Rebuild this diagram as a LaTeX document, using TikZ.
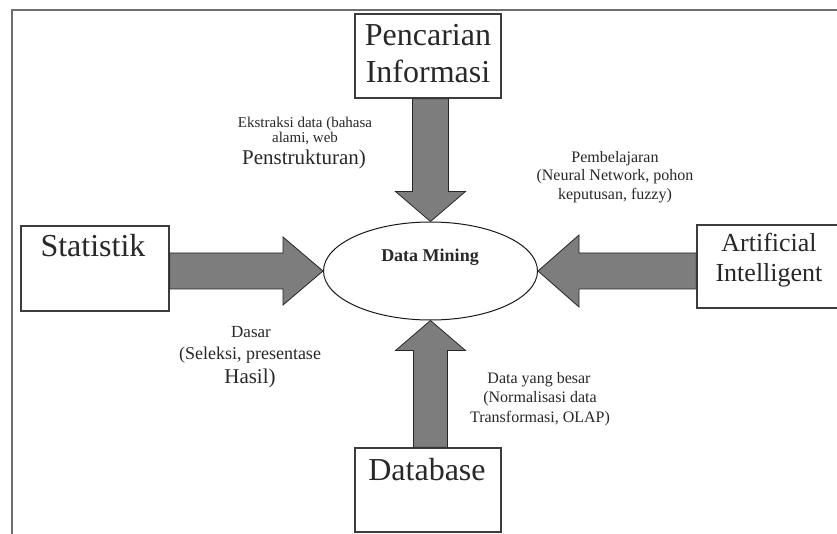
\documentclass[tikz,border=0pt]{standalone}
\usepackage{fontspec}
\setmainfont{Liberation Serif}
\usetikzlibrary{shapes.geometric,calc}
\definecolor{arrowgray}{RGB}{125,125,125}
\definecolor{framegray}{RGB}{110,110,110}
\definecolor{boxline}{RGB}{60,60,60}
\definecolor{txt}{RGB}{40,40,40}
\begin{document}
\begin{tikzpicture}[x=1pt,y=-1pt,
  box/.style={draw=boxline,line width=1.5pt,fill=white,inner sep=0pt,minimum width=146pt,minimum height=84pt},
  lbl/.style={inner sep=0pt,anchor=base,text=txt},
  big/.style={lbl,font=\fontsize{32}{37}\selectfont},
  mid/.style={lbl,font=\fontsize{21}{24}\selectfont},
  small/.style={lbl,font=\fontsize{16}{18}\selectfont},
  fat/.style={fill=arrowgray,draw=black!85,line width=0.8pt,line join=miter}]
\useasboundingbox (0,0) rectangle (837,534);
\clip (0,0) rectangle (837,534);
\fill[white] (0,0) rectangle (837,534);
\draw[framegray,line width=2pt] (12,10) rectangle (900,600);

% central ellipse
\node[ellipse,draw=black!90,line width=1pt,fill=white,minimum width=214pt,minimum height=98pt,inner sep=0pt] (dm) at (430.5,271) {};
\node[lbl,font=\bfseries\fontsize{18}{20}\selectfont] (dmT) at (430,262) {Data Mining};

% boxes
\node[box] (pen) at (428,56) {};
\node[box,minimum width=148pt,minimum height=85pt] (stat) at (95,268.5) {};
\node[box,minimum width=144pt,minimum height=83pt] (ai) at (769,266.5) {};
\node[box] (db) at (428,490) {};

% fat arrows
\filldraw[fat] ($(pen.south -| dm.north)+(-18,0)$) -- ($(dm.north)+(-18,-30)$) -- ($(dm.north)+(-35,-30)$) -- (dm.north) -- ($(dm.north)+(35,-30)$) -- ($(dm.north)+(18,-30)$) -- ($(pen.south -| dm.north)+(18,0)$) -- cycle;
\filldraw[fat] ($(db.north -| dm.south)+(-17,0)$) -- ($(dm.south)+(-17,30)$) -- ($(dm.south)+(-35,30)$) -- (dm.south) -- ($(dm.south)+(35,30)$) -- ($(dm.south)+(17,30)$) -- ($(db.north -| dm.south)+(17,0)$) -- cycle;
\filldraw[fat] ($(stat.east |- dm.west)+(0,-18)$) -- ($(dm.west)+(-40,-18)$) -- ($(dm.west)+(-40,-34)$) -- (dm.west) -- ($(dm.west)+(-40,34)$) -- ($(dm.west)+(-40,18)$) -- ($(stat.east |- dm.west)+(0,18)$) -- cycle;
\filldraw[fat] ($(ai.west |- dm.east)+(0,-18)$) -- ($(dm.east)+(41,-18)$) -- ($(dm.east)+(41,-36)$) -- (dm.east) -- ($(dm.east)+(41,36)$) -- ($(dm.east)+(41,18)$) -- ($(ai.west |- dm.east)+(0,18)$) -- cycle;

% box texts
\node[big] (penA) at (428,46) {Pencarian};
\node[big] (penB) at (428,83) {Informasi};
\node[big] (statA) at (93,257) {Statistik};
\node[lbl,font=\fontsize{26}{30}\selectfont] (aiA) at (769,252) {Artificial};
\node[lbl,font=\fontsize{26}{30}\selectfont] (aiB) at (769,282) {Intelligent};
\node[big] (dbA) at (427,480) {Database};

% labels
\node[lbl,font=\fontsize{15}{17}\selectfont] (e1) at (305,128) {Ekstraksi data (bahasa};
\node[lbl,font=\fontsize{15}{17}\selectfont] (e2) at (305,143) {alami, web};
\node[mid] (e3) at (304,165) {Penstrukturan)};

\node[small] (p1) at (615,163) {Pembelajaran};
\node[small] (p2) at (615,181) {(Neural Network, pohon};
\node[small] (p3) at (615,200) {keputusan, fuzzy)};

\node[lbl,font=\fontsize{17}{19}\selectfont] (d1) at (251,337) {Dasar};
\node[lbl,font=\fontsize{18}{20}\selectfont] (d2) at (250,359) {(Seleksi, presentase};
\node[mid] (d3) at (250,383) {Hasil)};

\node[small] (b1) at (539,383) {Data yang besar};
\node[small] (b2) at (540,402) {(Normalisasi data};
\node[small] (b3) at (540,422) {Transformasi, OLAP)};
\end{tikzpicture}
\end{document}
